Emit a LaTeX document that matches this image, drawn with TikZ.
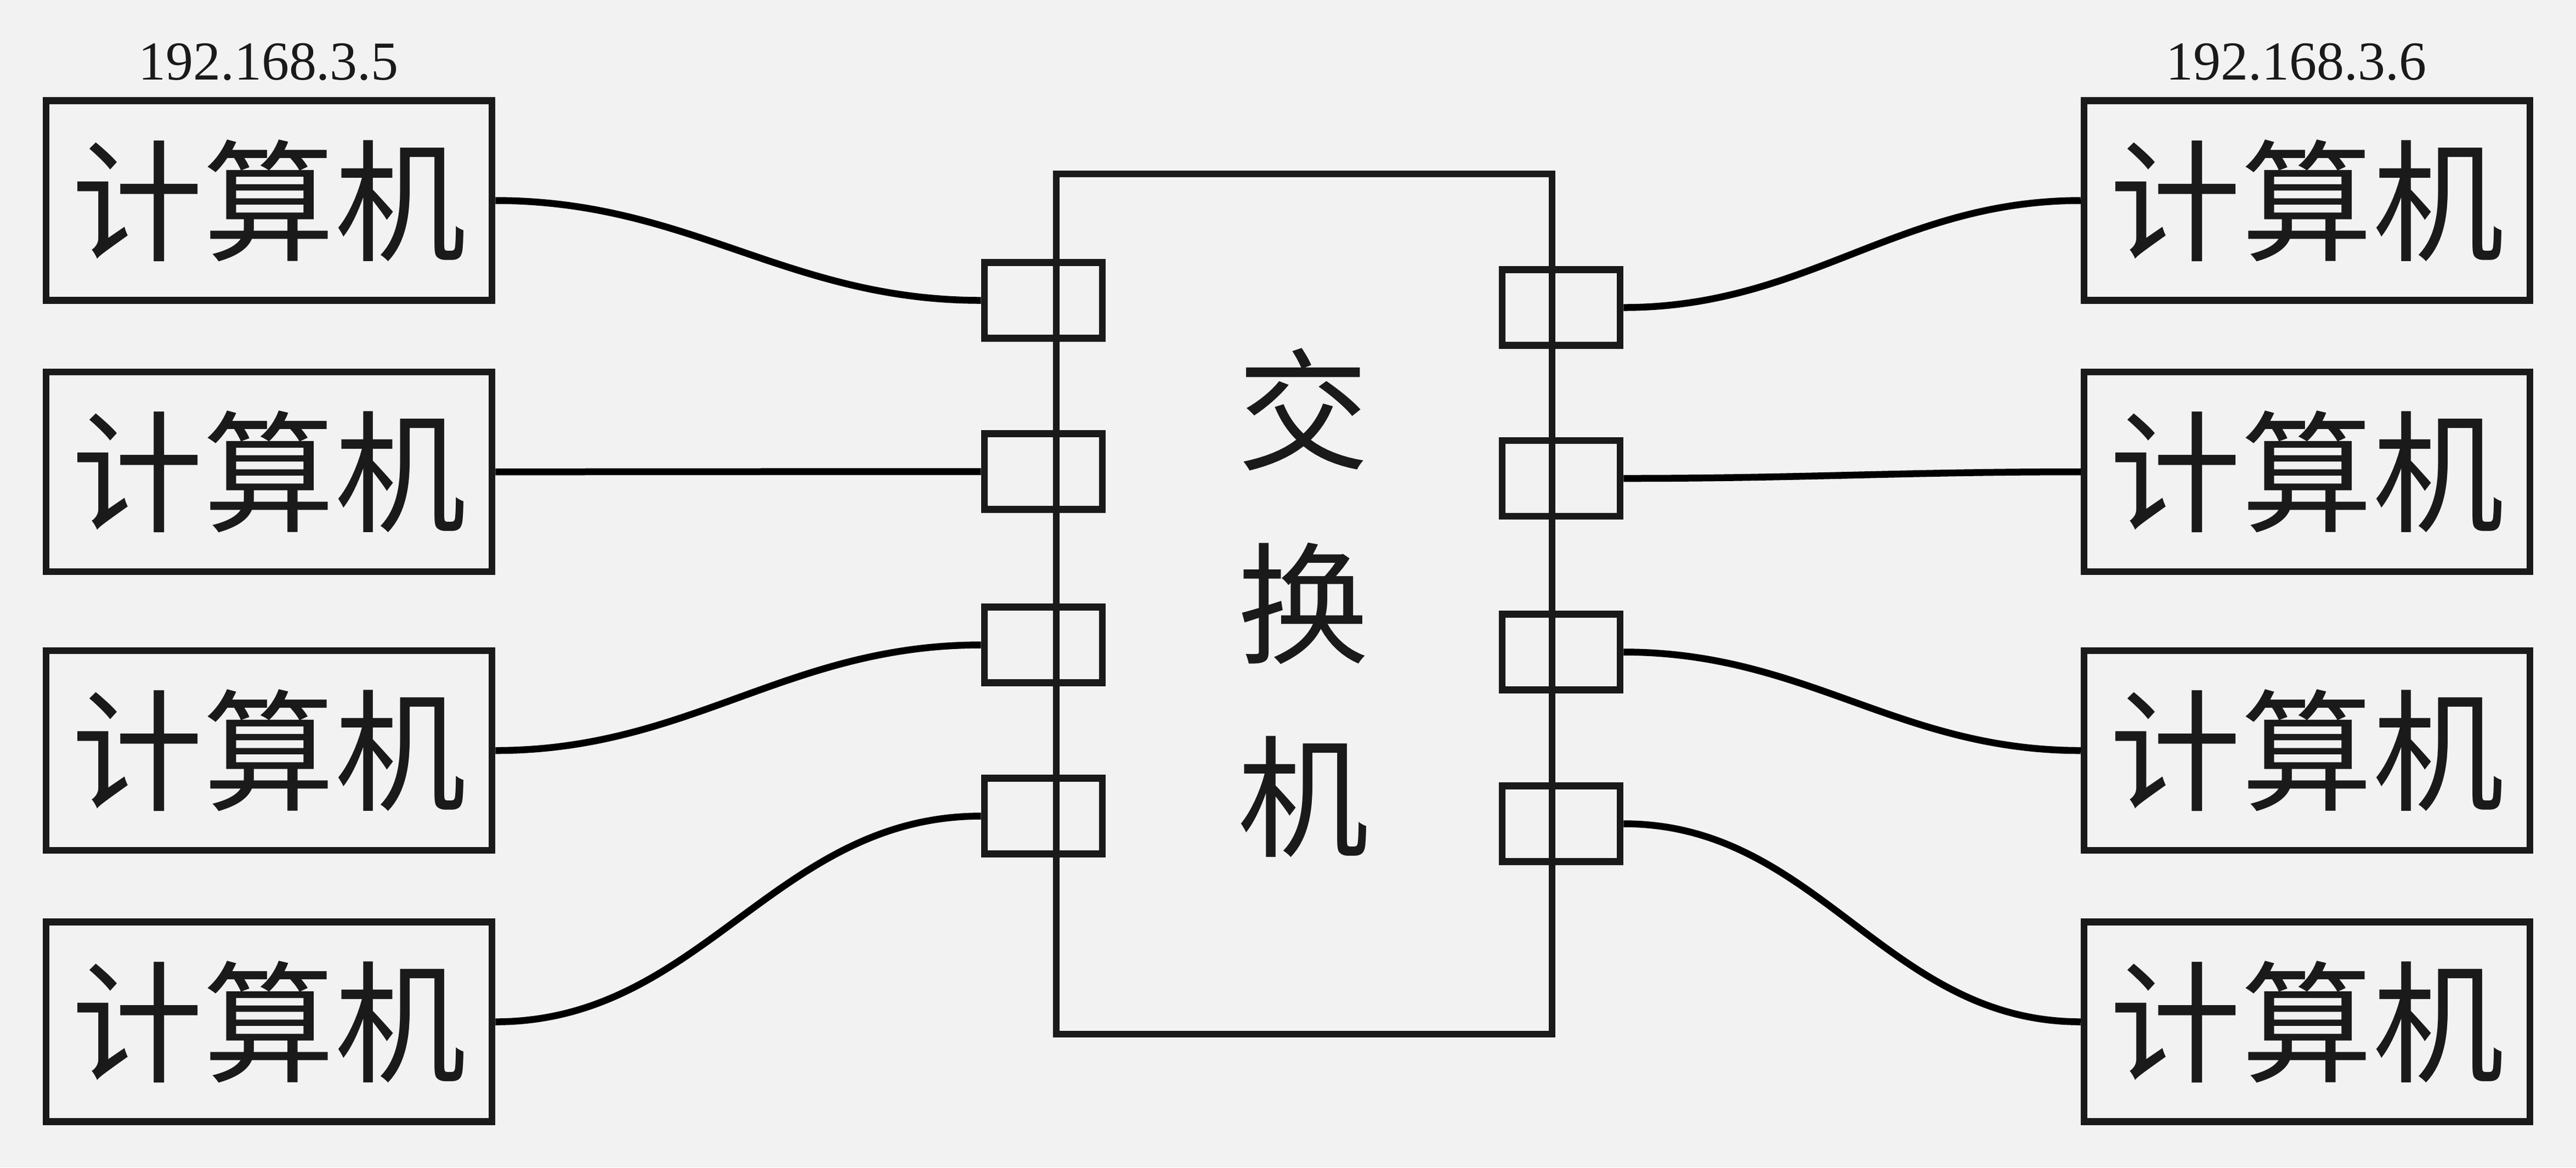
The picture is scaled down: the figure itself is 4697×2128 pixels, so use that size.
\documentclass[tikz,border=0pt]{standalone}
\usepackage{fontspec}
\setmainfont{Liberation Serif}
\newfontfamily\cjk{Noto Sans CJK SC}
\definecolor{ink}{HTML}{1A1A1A}
\definecolor{bg}{HTML}{F2F2F2}
\begin{document}
\begin{tikzpicture}[x=0.1pt,y=-0.1pt,
  box/.style={draw=ink, line width=1.27pt, minimum width=81.3pt, minimum height=36.4pt, inner sep=0pt, font=\cjk\fontsize{24}{28}\selectfont, text=ink},
  port/.style={draw=ink, line width=1.27pt, minimum width=21.5pt, minimum height=13.8pt, inner sep=0pt},
  switchbox/.style={draw=ink, line width=1.27pt, minimum width=90.4pt, minimum height=156.8pt, inner sep=0pt},
  wire/.style={line width=1.25pt, black},
  ip/.style={font=\fontsize{10}{12}\selectfont, text=ink, anchor=base, inner sep=0pt}]
\fill[bg] (0,0) rectangle (4697,2128);
\useasboundingbox (0,0) rectangle (4697,2128);
\node[switchbox] (sw) at (2378,1101) {};
\node[font=\cjk\fontsize{24}{35.25}\selectfont, text=ink, align=center, inner sep=0pt] (swl) at (2376,1099) {交\\换\\机};
\foreach \i/\y in {1/547.5,2/859.5,3/1175.5,4/1487.5} \node[port] (pl\i) at (1902.5,\y) {};
\foreach \i/\y in {1/560.5,2/872,3/1188.5,4/1501.5} \node[port] (pr\i) at (2846.5,\y) {};
\foreach \i/\y in {1/365.5,2/860,3/1368,4/1862.5} {
  \node[box] (cl\i) at (490.5,\y) {计算机};
  \node[box] (cr\i) at (4206.5,\y) {计算机};
}
\node[ip] (ipl) at (489.5,145) {192.168.3.5};
\node[ip] (ipr) at (4187,145) {192.168.3.6};
\foreach \i in {1,...,4} {
  \draw[wire] (cl\i.east) to[out=0,in=180] (pl\i.west);
  \draw[wire] (pr\i.east) to[out=0,in=180] (cr\i.west);
}
\end{tikzpicture}
\end{document}
